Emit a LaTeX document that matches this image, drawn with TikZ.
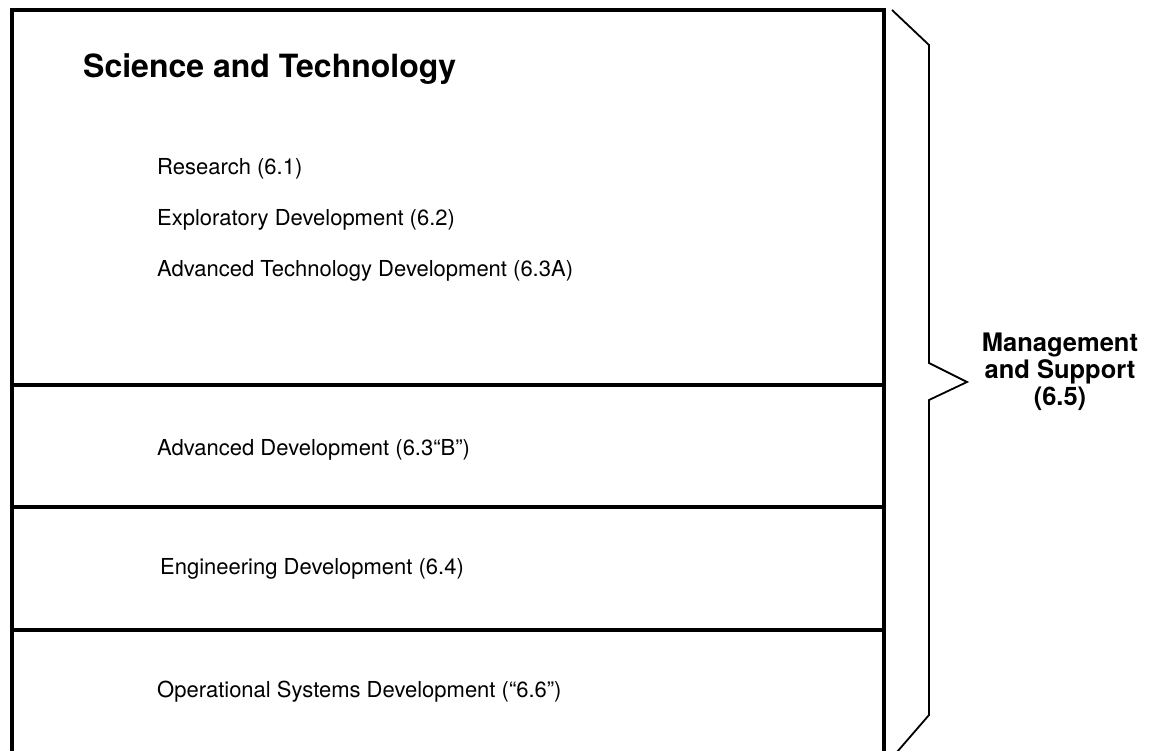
\documentclass[tikz,border=0pt]{standalone}
\usepackage{fontspec}
\setmainfont{TeX Gyre Heros}
\begin{document}
\begin{tikzpicture}[x=1pt,y=-1pt,
  frame/.style={line width=3.8pt},
  divider/.style={line width=3.2pt},
  bracelines/.style={line width=1.8pt, line join=miter},
  body/.style={anchor=base west, inner sep=0pt, font=\fontsize{22}{26}\selectfont},
  heading/.style={anchor=base west, inner sep=0pt, font=\fontsize{32}{36}\selectfont\bfseries},
  side/.style={anchor=center, inner sep=0pt, align=center, font=\fontsize{25.5}{27}\selectfont\bfseries}]
\useasboundingbox (0,0) rectangle (1154,750);
\fill[white] (0,0) rectangle (1154,750);
\clip (0,0) rectangle (1154,750);
% outer frame (open at the bottom edge of the picture)
\draw[frame] (12,10) rectangle (884,800);
% dividers
\draw[divider] (12,385) -- (884,385);
\draw[divider] (12,507) -- (884,507);
\draw[divider] (12,630) -- (884,630);
% brace
\coordinate (b1) at (892,10);
\coordinate (b2) at (929,45);
\coordinate (b3) at (929,363);
\coordinate (tip) at (967,382);
\coordinate (b4) at (929,400);
\coordinate (b5) at (929,715);
\coordinate (b6) at (897,752);
\draw[bracelines] (b1) -- (b2) -- (b3) -- (tip) -- (b4) -- (b5) -- (b6);
% texts
\node[heading] (st) at (83,77) {Science and Technology};
\node[body] (r61) at (157,174) {Research (6.1)};
\node[body] (r62) at (157,225) {Exploratory Development (6.2)};
\node[body] (r63a) at (157,276) {Advanced Technology Development (6.3A)};
\node[body] (r63b) at (157,455) {Advanced Development (6.3“B”)};
\node[body] (r64) at (160,574) {Engineering Development (6.4)};
\node[body] (r66) at (157,697) {Operational Systems Development (“6.6”)};
\node[side] (ms) at (1060,372) {Management\\and Support\\(6.5)};
\end{tikzpicture}
\end{document}
